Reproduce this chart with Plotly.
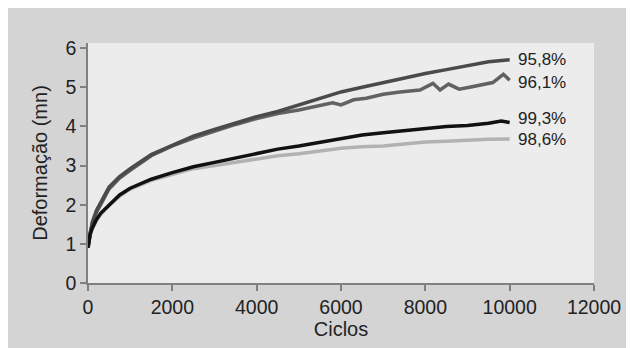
import plotly.graph_objects as go

# Data
x_958 = [0, 50, 100, 200, 300, 500, 750, 1000, 1500, 2000, 2500, 3000, 3500, 4000, 4500,
         5000, 5500, 6000, 6500, 7000, 7500, 8000, 8500, 9000, 9500, 10000]
y_958 = [0.9, 1.3, 1.55, 1.85, 2.05, 2.45, 2.72, 2.92, 3.28, 3.52, 3.75, 3.92, 4.08, 4.25, 4.38,
         4.55, 4.72, 4.88, 5.0, 5.12, 5.22, 5.35, 5.45, 5.55, 5.65, 5.7]

x_961 = [0, 50, 100, 200, 300, 500, 750, 1000, 1500, 2000, 2500, 3000, 3500, 4000, 4500,
         5000, 5500, 5800, 6000, 6300, 6600, 7000, 7400, 7873, 8180, 8350, 8550, 8800,
         9050, 9300, 9600, 9850, 10000]
y_961 = [0.9, 1.28, 1.5, 1.8, 2.0, 2.4, 2.68, 2.88, 3.25, 3.5, 3.7, 3.88, 4.05, 4.2, 4.33,
         4.42, 4.52, 4.6, 4.55, 4.68, 4.72, 4.82, 4.88, 4.93, 5.1, 4.93, 5.08, 4.95,
         5.0, 5.05, 5.12, 5.33, 5.18]

x_993 = [0, 50, 100, 200, 300, 500, 750, 1000, 1500, 2000, 2500, 3000, 3500, 4000, 4500,
         5000, 5500, 6000, 6500, 7000, 7500, 8000, 8500, 9000, 9500, 9800, 10000]
y_993 = [0.9, 1.25, 1.4, 1.62, 1.78, 2.0, 2.25, 2.42, 2.65, 2.82, 2.97, 3.08, 3.2, 3.3, 3.42,
         3.5, 3.6, 3.7, 3.78, 3.84, 3.9, 3.96, 4.0, 4.02, 4.08, 4.14, 4.1]

x_986 = [0, 50, 100, 200, 300, 500, 750, 1000, 1500, 2000, 2500, 3000, 3500, 4000, 4500,
         5000, 5500, 6000, 6500, 7000, 7500, 8000, 8500, 9000, 9500, 10000]
y_986 = [0.9, 1.22, 1.38, 1.6, 1.75, 1.98, 2.22, 2.4, 2.62, 2.78, 2.92, 3.0, 3.08, 3.17, 3.25,
         3.3, 3.38, 3.44, 3.48, 3.5, 3.55, 3.6, 3.62, 3.65, 3.67, 3.68]

x_ticks = [0, 2000, 4000, 6000, 8000, 10000, 12000]
x_ticktext = ["0", "2000", "4000", "6000", "8000", "10000", "12000"]
y_ticks = [0, 1, 2, 3, 4, 5, 6]

labels = ["95,8%", "96,1%", "99,3%", "98,6%"]
label_y = [5.70, 5.11, 4.20, 3.66]
colors = ["#4a4a4a", "#626262", "#111111", "#b2b2b2"]

series = [(x_958, y_958), (x_961, y_961), (x_993, y_993), (x_986, y_986)]

fig = go.Figure()
order = [3, 1, 0, 2]
for i in order:
    xs, ys = series[i]
    fig.add_trace(go.Scatter(x=xs, y=ys, mode="lines", name=labels[i],
                             line=dict(color=colors[i], width=3.5),
                             showlegend=False, hoverinfo="skip"))

FONT = "Liberation Sans"
for t, yv in zip(labels, label_y):
    fig.add_annotation(x=10170, y=yv, text=t, showarrow=False, xanchor="left",
                       yanchor="middle", borderpad=0,
                       font=dict(family=FONT, size=17, color="#222222"))

# page body margin of 8px offsets the figure
W, H = 626, 340
L, R, T, B = 80, 40, 35, 65

tick_font = dict(family=FONT, size=19.5, color="#222222")
title_font = dict(family=FONT, size=20, color="#222222")
fig.update_layout(
    width=W, height=H,
    margin=dict(l=L, r=R, t=T, b=B),
    paper_bgcolor="#d4d4d4",
    plot_bgcolor="#ececec",
    font=tick_font,
    xaxis=dict(range=[0, 12000], tickvals=x_ticks, ticktext=x_ticktext, automargin=False,
               showgrid=False, zeroline=False, showline=True, linecolor="#808080", linewidth=1.5,
               ticks="outside", ticklen=6, tickcolor="#808080", tickwidth=1.5,
               tickfont=tick_font, title=dict(text="Ciclos", font=title_font, standoff=3)),
    yaxis=dict(range=[0, 6.13], tickvals=y_ticks, automargin=False,
               showgrid=False, zeroline=False, showline=True, linecolor="#808080", linewidth=1.5,
               ticks="outside", ticklen=6, tickcolor="#808080", tickwidth=1.5,
               tickfont=tick_font, title=dict(text="Deformação (mn)", font=title_font, standoff=12)),
)

fig.write_html("out.html")
